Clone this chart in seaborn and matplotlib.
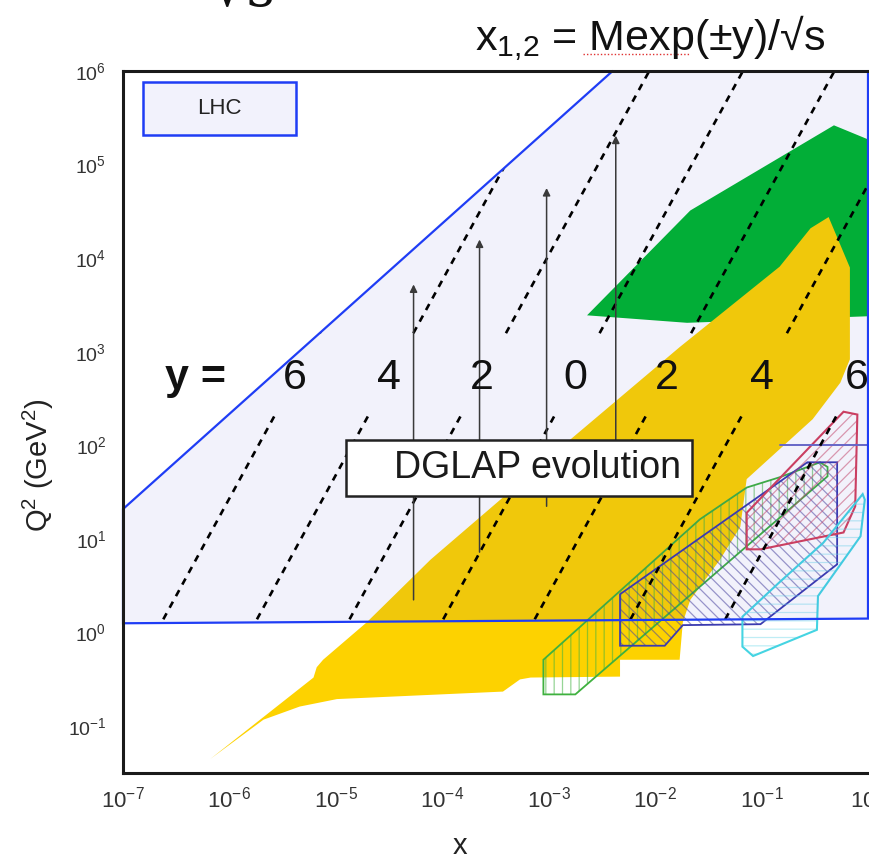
import numpy as np
import pandas as pd
import matplotlib
matplotlib.use("Agg")
import matplotlib.pyplot as plt
import seaborn as sns
from matplotlib.patches import Polygon, Rectangle
from matplotlib.ticker import FixedLocator, FuncFormatter, LogLocator, NullFormatter

# ---------------- data (log10 x, log10 Q^2) ----------------
lhc_logx = [-7.0, -7.0, -2.40, 0.0, 0.0]
lhc_logq2 = [0.10, 1.32, 6.0, 6.0, 0.15]

yellow_logx = [-6.18, -5.21, -5.18, -5.12, -4.71, -4.11, -2.80, -1.77, -0.83, -0.54,
               -0.37, -0.17, -0.17, -0.26, -0.52, -0.83, -1.14, -1.20, -1.39, -1.67,
               -1.74, -1.77, -2.33, -2.33, -3.17, -3.27, -3.43, -4.99, -5.34, -5.68]
yellow_logq2 = [-1.35, -0.48, -0.37, -0.29, 0.11, 0.78, 2.06, 3.05, 3.91, 4.32,
                4.44, 3.90, 2.92, 2.67, 2.28, 1.96, 1.64, 1.13, 0.78, 0.35,
                0.11, -0.29, -0.29, -0.47, -0.48, -0.50, -0.63, -0.71, -0.79, -0.93]

green_logx = [-2.64, -1.67, -0.32, 0.0, 0.0, -1.70]
green_logq2 = [3.39, 4.51, 5.42, 5.27, 3.38, 3.31]

blue_logx = [-2.33, -0.57, -0.29, -0.29, -1.01, -1.74, -1.91, -2.33]
blue_logq2 = [0.41, 1.82, 1.82, 0.73, 0.09, 0.08, -0.14, -0.14]

band_logx = [-3.05, -1.58, -1.14, -0.83, -0.45, -0.38, -0.38, -2.75, -3.05]
band_logq2 = [-0.29, 1.21, 1.55, 1.66, 1.82, 1.77, 1.67, -0.66, -0.66]

red_logx = [-0.23, -0.10, -0.12, -0.23, -1.01, -1.14, -1.14]
red_logq2 = [2.36, 2.33, 1.35, 1.07, 0.89, 0.89, 1.28]

cyan_logx = [-0.05, -0.03, -0.07, -0.47, -0.48, -1.08, -1.18, -1.18, -0.83, -0.42]
cyan_logq2 = [1.48, 1.42, 1.03, 0.39, 0.03, -0.25, -0.15, 0.17, 0.54, 0.96]

hline_logx = [-0.83, 0.0]
hline_logq2 = [2.0, 2.0]

arrow_logx = [-4.27, -3.65, -3.02, -2.37]
arrow_low_logq2 = [0.35, 0.86, 1.35, 1.74]
arrow_high_logq2 = [3.72, 4.20, 4.75, 5.31]

rapidity_labels = ["6", "4", "2", "0", "2", "4", "6"]
line_logx_at_q2_1 = [-6.69, -5.81, -4.94, -4.06, -3.20, -2.30, -1.41]
line_slope = 2.08
label_logq2 = 2.72
gap_logq2 = (2.39, 3.18)

x_tick_exp = [-7, -6, -5, -4, -3, -2, -1, 0]
y_tick_exp = [-1, 0, 1, 2, 3, 4, 5, 6]

p10 = lambda a: np.power(10.0, np.asarray(a, dtype=float))

# ---------------- style ----------------
sns.set_theme(style="white")
plt.rcParams["font.family"] = ["Liberation Sans", "DejaVu Sans"]
plt.rcParams["mathtext.fontset"] = "custom"
plt.rcParams["mathtext.rm"] = "Liberation Sans"
plt.rcParams["mathtext.it"] = "Liberation Sans:italic"
plt.rcParams["mathtext.bf"] = "Liberation Sans:bold"
plt.rcParams["hatch.linewidth"] = 0.9

fig = plt.figure(figsize=(8.7, 8.59), dpi=100)
ax = fig.add_axes([0.1414, 0.1001, 0.8563, 0.8172])
ax.set_xscale("log")
ax.set_yscale("log")
ax.set_xlim(1e-7, 1.0)
ax.set_ylim(10 ** -1.5, 1e6)

# ---------------- regions ----------------
ax.add_patch(Polygon(np.c_[p10(green_logx), p10(green_logq2)], closed=True,
                     facecolor="#00b62f", edgecolor="none", zorder=1.0))
ax.add_patch(Polygon(np.c_[p10(yellow_logx), p10(yellow_logq2)], closed=True,
                     facecolor="#fdd200", edgecolor="none", zorder=1.1))

def hatched(lx, lq, hatch, hcolor, ecolor, lw, z):
    xy = np.c_[p10(lx), p10(lq)]
    ax.add_patch(Polygon(xy, closed=True, facecolor="none", edgecolor=hcolor,
                         lw=0, hatch=hatch, zorder=z))
    ax.add_patch(Polygon(xy, closed=True, fill=False, edgecolor=ecolor,
                         lw=lw, zorder=z + 0.05))

hatched(band_logx, band_logq2, "||", (0.25, 0.70, 0.25, 0.55), "#3fb13f", 1.3, 2.0)
hatched(blue_logx, blue_logq2, "\\\\\\", (0.30, 0.28, 0.62, 0.55), "#3b3bb0", 1.3, 2.1)
hatched(red_logx, red_logq2, "///", (0.80, 0.30, 0.42, 0.55), "#d4405c", 1.5, 2.2)
hatched(cyan_logx, cyan_logq2, "--", (0.45, 0.85, 0.92, 0.45), "#45d4e2", 1.5, 2.3)
ax.plot(p10(hline_logx), p10(hline_logq2), color="#6a6ac8", lw=1.4, zorder=2.4)

# LHC region (translucent overlay)
lhc_patch = Polygon(np.c_[p10(lhc_logx), p10(lhc_logq2)], closed=True,
                    facecolor="#3030c8", alpha=0.06, edgecolor="none", zorder=2.5)
ax.add_patch(lhc_patch)
clip_patch = Polygon(np.c_[p10(lhc_logx), p10(lhc_logq2)], closed=True,
                     facecolor="none", edgecolor="none", zorder=0)
ax.add_patch(clip_patch)

# ---------------- constant-rapidity dashed lines (seaborn) ----------------
rows = []
lq_grid = np.linspace(-0.6, 6.6, 200)
for i, x0 in enumerate(line_logx_at_q2_1):
    for seg, mask in enumerate([lq_grid < gap_logq2[0], lq_grid > gap_logq2[1]]):
        for lq in lq_grid[mask]:
            rows.append({"x": 10 ** (x0 + lq / line_slope), "Q2": 10 ** lq,
                         "seg": f"{i}-{seg}"})
lines_df = pd.DataFrame(rows)
n_before = len(ax.lines)
sns.lineplot(data=lines_df, x="x", y="Q2", units="seg", estimator=None,
             color="black", lw=1.9, ax=ax, legend=False, sort=False)
for ln in ax.lines[n_before:]:
    ln.set_linestyle((0, (2.6, 2.4)))
    ln.set_clip_path(clip_patch)
    ln.set_zorder(3)
ax.set_xlabel("")
ax.set_ylabel("")

# LHC border
border_x = [lhc_logx[2], lhc_logx[1], lhc_logx[0], lhc_logx[4], lhc_logx[3]]
border_q = [lhc_logq2[2], lhc_logq2[1], lhc_logq2[0], lhc_logq2[4], lhc_logq2[3]]
ax.plot(p10(border_x), p10(border_q), color="#1f3df5", lw=1.6, zorder=4,
        solid_joinstyle="miter", clip_on=False)

# DGLAP arrows
for lx, lo, hi in zip(arrow_logx, arrow_low_logq2, arrow_high_logq2):
    ax.annotate("", xy=(10 ** lx, 10 ** hi), xytext=(10 ** lx, 10 ** lo),
                arrowprops=dict(arrowstyle="-|>", color="#3a3a3a", lw=1.1,
                                mutation_scale=11, shrinkA=0, shrinkB=0),
                zorder=3.5)

# rapidity labels, sitting on their lines
for lab, x0 in zip(rapidity_labels, line_logx_at_q2_1):
    ax.text(10 ** (x0 + label_logq2 / line_slope), 10 ** label_logq2, lab,
            fontsize=31, ha="center", va="center", color="#111111", zorder=5)
ax.text(10 ** -6.32, 10 ** label_logq2, "y =", fontsize=31, fontweight="bold",
        ha="center", va="center", color="#111111", zorder=5)

# boxes
ax.add_patch(Rectangle((0.299, 0.395), 0.465, 0.079, transform=ax.transAxes,
                       facecolor="white", edgecolor="#222222", lw=1.8, zorder=6))
ax.text(0.556, 0.434, "DGLAP evolution", transform=ax.transAxes, fontsize=27,
        ha="center", va="center", color="#1a1a1a", zorder=7)
ax.add_patch(Rectangle((0.027, 0.909), 0.205, 0.075, transform=ax.transAxes,
                       facecolor="#f2f2fc", edgecolor="#1f3df5", lw=1.8, zorder=6))
ax.text(0.130, 0.947, "LHC", transform=ax.transAxes, fontsize=16,
        ha="center", va="center", color="#222222", zorder=7)

# ---------------- axes styling ----------------
ax.xaxis.set_major_locator(FixedLocator(p10(x_tick_exp)))
ax.yaxis.set_major_locator(FixedLocator(p10(y_tick_exp)))
fmt = FuncFormatter(lambda v, p: r"$10^{%d}$" % int(round(np.log10(v))))
ax.xaxis.set_major_formatter(fmt)
ax.yaxis.set_major_formatter(fmt)
ax.xaxis.set_minor_locator(LogLocator(base=10, subs=np.arange(2, 10), numticks=20))
ax.yaxis.set_minor_locator(LogLocator(base=10, subs=np.arange(2, 10), numticks=20))
ax.xaxis.set_minor_formatter(NullFormatter())
ax.yaxis.set_minor_formatter(NullFormatter())
ax.tick_params(which="both", direction="in", top=False, right=False,
               color="#222222")
ax.tick_params(which="major", length=10, width=1.2)
ax.tick_params(which="minor", length=5, width=1.0)
ax.tick_params(axis="x", labelsize=16, pad=10, labelcolor="#333333")
ax.tick_params(axis="y", labelsize=14, pad=12, labelcolor="#333333")
for s in ["left", "bottom", "top"]:
    ax.spines[s].set_linewidth(2.2)
    ax.spines[s].set_color("#1a1a1a")
    ax.spines[s].set_zorder(8)
ax.spines["right"].set_visible(False)

fig.text(0.0437, 1 - 465 / 859, r"Q$^2$ (GeV$^2$)", rotation=90, fontsize=21,
         ha="center", va="center", color="#222222")
fig.text(0.529, 1 - 846 / 859, "x", fontsize=21, ha="center", va="center",
         color="#222222")

# header annotations
fig.text(0.747, 1 - 50 / 859, r"x$_{1{,}2}$ = Mexp(±y)/√s", fontsize=31,
         ha="center", va="baseline", color="#111111")
fig.add_artist(plt.Line2D([583 / 870, 689 / 870], [1 - 54 / 859, 1 - 54 / 859],
                          color="#e03030", lw=1.0, linestyle=(0, (1, 1.5))))
fig.text(211 / 870, 1 - 6 / 859, "√s", fontsize=40, family="DejaVu Serif",
         ha="left", va="baseline", color="#111111")

fig.savefig("out.png", dpi=100)
